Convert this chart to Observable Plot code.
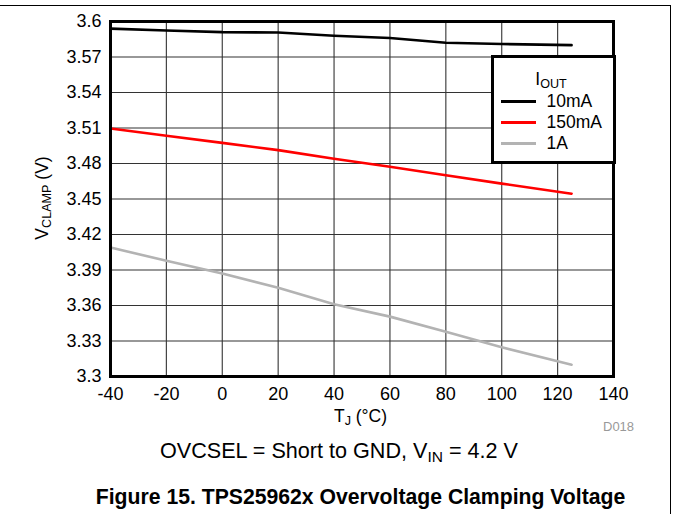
<!DOCTYPE html>
<html>
<head>
<meta charset="utf-8">
<script src="https://cdn.jsdelivr.net/npm/d3@7"></script>
<script src="https://cdn.jsdelivr.net/npm/@observablehq/plot@0.6"></script>
<style>
  html, body { margin: 0; padding: 0; background: #fff; }
  body { font-family: "Liberation Sans", Arial, sans-serif; color: #000; }
  #wrap { position: relative; width: 673px; height: 514px; overflow: hidden; }
  #topline { position: absolute; left: 0; top: 5px; width: 671px; height: 0; border-top: 1.5px solid #000; }
  #rightline { position: absolute; left: 669.5px; top: 5px; width: 0; height: 509px; border-left: 1.5px solid #000; }
  #chart { position: absolute; left: 0; top: 0; }
  .ov { position: absolute; white-space: nowrap; }
  .c { transform: translateX(-50%); }
  sub { font-size: 0.72em; vertical-align: -0.25em; line-height: 0; }
  #xlabel { left: 360.5px; top: 407.5px; font-size: 17.5px; line-height: 1; }
  #ylabel { left: 42px; top: 198px; font-size: 17.5px; transform: translate(-50%, -50%) rotate(-90deg); }
  #code { left: 603px; top: 420px; font-size: 13px; color: #999; line-height: 1; }
  #subtitle { left: 339px; top: 438px; font-size: 21.6px; }
  #title { left: 360.5px; top: 485px; font-size: 21.2px; font-weight: bold; }
  #legend { position: absolute; left: 490.5px; top: 54.5px; width: 119px; height: 103px; border: 3px solid #000; background: #fff; font-size: 17.5px; }
  #legend .lt { position: absolute; left: 0; width: 100%; text-align: center; top: 11px; padding-right: 4px; box-sizing: border-box; }
  #legend .row { position: absolute; left: 7px; height: 20px; }
  #legend .sw { position: absolute; left: 0; top: 9px; width: 35px; height: 3px; }
  #legend .lab { position: absolute; left: 46px; top: 0; line-height: 20px; }
</style>
</head>
<body>
<div id="wrap">
  <div id="topline"></div>
  <div id="rightline"></div>
  <div id="chart"></div>
  <div class="ov" id="ylabel">V<sub>CLAMP</sub> (V)</div>
  <div class="ov c" id="xlabel">T<sub>J</sub> (°C)</div>
  <div class="ov" id="code">D018</div>
  <div class="ov c" id="subtitle">OVCSEL = Short to GND, V<sub>IN</sub> = 4.2 V</div>
  <div class="ov c" id="title">Figure 15. TPS25962x Overvoltage Clamping Voltage</div>
  <div id="legend"></div>
</div>
<script>
// ---- data ----
const temps = [-40, -20, 0, 20, 40, 60, 80, 100, 125];
const vclamp10mA  = [3.594, 3.5924, 3.591, 3.5907, 3.588, 3.586, 3.582, 3.581, 3.580];
const vclamp150mA = [3.5096, 3.5034, 3.4974, 3.4913, 3.484, 3.4772, 3.470, 3.463, 3.4545];
const vclamp1A    = [3.409, 3.3978, 3.387, 3.375, 3.361, 3.3506, 3.3379, 3.3247, 3.3099];
const seriesNames = ["10mA", "150mA", "1A"];
const seriesColors = ["#000000", "#ff0000", "#b3b3b3"];
const xTicks = [-40, -20, 0, 20, 40, 60, 80, 100, 120, 140];
const yTicks = [3.3, 3.33, 3.36, 3.39, 3.42, 3.45, 3.48, 3.51, 3.54, 3.57, 3.6];

const seriesValues = [vclamp10mA, vclamp150mA, vclamp1A];
const rows = [];
seriesNames.forEach((name, i) => {
  temps.forEach((t, j) => rows.push({series: name, t, v: seriesValues[i][j]}));
});

const chart = Plot.plot({
  width: 673,
  height: 440,
  marginLeft: 110,
  marginRight: 60,
  marginTop: 21,
  marginBottom: 64,
  style: {fontFamily: "'Liberation Sans', Arial, sans-serif", fontSize: "18px", background: "transparent", color: "#000"},
  x: {domain: [-40, 140], label: null},
  y: {domain: [3.3, 3.6], label: null},
  color: {domain: seriesNames, range: seriesColors},
  marks: [
    Plot.ruleX(xTicks, {stroke: "#444", strokeWidth: 1.2}),
    Plot.ruleY(yTicks, {stroke: "#333", strokeWidth: 1.2}),
    Plot.line(rows, {x: "t", y: "v", z: "series", stroke: "series", strokeWidth: 2.6}),
    Plot.axisX(xTicks, {tickSize: 0, tickPadding: 11, fontSize: 18, tickFormat: d => String(d)}),
    Plot.axisY(yTicks, {tickSize: 0, tickPadding: 9, fontSize: 18, tickFormat: d => String(+d.toFixed(2))}),
    Plot.frame({stroke: "#000", strokeWidth: 3})
  ]
});
document.getElementById("chart").appendChild(chart);

// legend built from series arrays
const legend = document.getElementById("legend");
legend.innerHTML = '<div class="lt">I<sub>OUT</sub></div>';
seriesNames.forEach((name, i) => {
  const row = document.createElement("div");
  row.className = "row";
  row.style.top = (33 + i * 21) + "px";
  row.innerHTML = `<div class="sw" style="background:${seriesColors[i]}"></div><div class="lab">${name}</div>`;
  legend.appendChild(row);
});
</script>
</body>
</html>
